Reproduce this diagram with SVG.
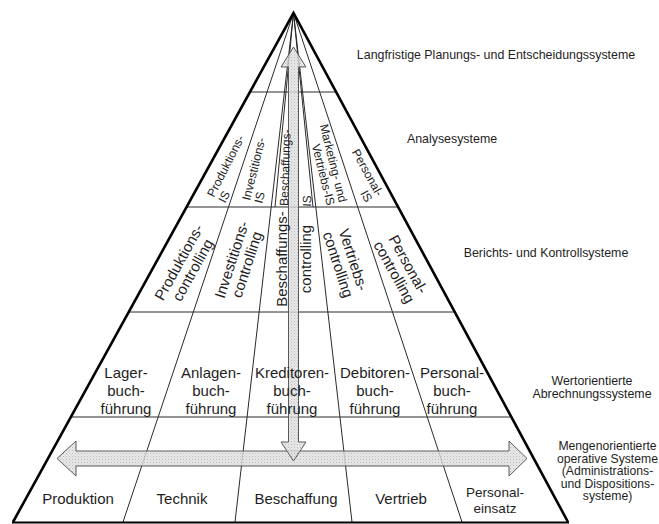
<svg xmlns="http://www.w3.org/2000/svg" width="659" height="524" viewBox="0 0 659 524">
<defs>
<style>
.t{font-family:"Liberation Sans",Arial,Helvetica,sans-serif;fill:#1e1e1e}
.s12{font-size:12px}
.s15{font-size:15px}
.r{font-size:12.4px}
.m{text-anchor:middle}
.e{text-anchor:end}
.thin{stroke:#2a2a2a;stroke-width:1;fill:none}
.frame{stroke:#000;stroke-width:2.6;fill:none;stroke-linejoin:miter}
.arrow{fill:url(#dots);fill-opacity:0.82;stroke:#5a5a5a;stroke-width:1}
</style>
<pattern id="dots" width="3" height="3" patternUnits="userSpaceOnUse">
<rect width="3" height="3" fill="#e4e4e4"/>
<rect x="0" y="0" width="1" height="1" fill="#aaaaaa"/>
<rect x="1.5" y="1.5" width="1" height="1" fill="#bdbdbd"/>
</pattern>
</defs>
<rect width="659" height="524" fill="#ffffff"/>

<g id="connectors">
<g id="layer-lines" class="thin">
<line x1="250" y1="92" x2="336.1" y2="92"/>
<line x1="186.6" y1="207" x2="398.1" y2="207"/>
<line x1="128.7" y1="312" x2="454.8" y2="312"/>
<line x1="70.9" y1="417" x2="511.4" y2="417"/>
</g>
<g id="dividers" class="thin">
<line x1="293.5" y1="13" x2="123" y2="522"/>
<line x1="293.5" y1="13" x2="235" y2="522"/>
<line x1="293.5" y1="13" x2="352" y2="522"/>
<line x1="293.5" y1="13" x2="462" y2="522"/>
<line x1="293.5" y1="13" x2="275" y2="207"/>
<line x1="293.5" y1="13" x2="313" y2="207"/>
</g>
<g id="pyramid-outline">
<path class="frame" d="M13,522 L293.5,13 L568,522"/>
<line x1="12" y1="522.5" x2="569" y2="522.5" stroke="#000" stroke-width="2"/>
</g>
<path id="arrow-horizontal" class="arrow" d="M57,458.5 L76,441 L76,451 L509,451 L509,441 L527,458.5 L509,476 L509,466 L76,466 L76,476 Z"/>
<path id="arrow-vertical" class="arrow" d="M293.5,47 L306,67 L298.5,67 L298.5,442 L306,442 L293.5,461 L281,442 L288.5,442 L288.5,67 L281,67 Z"/>
</g>

<g id="analysis-layer">
<g id="produktions-is"><text class="t s12" transform="translate(214,198) rotate(-63)"><tspan x="0" y="0">Produktions-</tspan><tspan x="0" y="12.5">IS</tspan></text></g>
<g id="investitions-is"><text class="t s12" transform="translate(250,201) rotate(-76)"><tspan x="0" y="0">Investitions-</tspan><tspan x="0" y="12.5">IS</tspan></text></g>
<g id="beschaffungs-is"><text class="t s12" transform="translate(288,206) rotate(-88)"><tspan x="0" y="0">Beschaffungs-</tspan><tspan x="0" y="23">IS</tspan></text></g>
<g id="marketing-vertriebs-is"><text class="t s12 e" transform="translate(339,203) rotate(76)"><tspan x="0" y="0">Marketing- und</tspan><tspan x="0" y="12.5">Vertriebs-IS</tspan></text></g>
<g id="personal-is"><text class="t s12 e" transform="translate(376.5,197) rotate(61)"><tspan x="0" y="0">Personal-</tspan><tspan x="0" y="12.5">IS</tspan></text></g>
</g>

<g id="reporting-layer">
<g id="produktionscontrolling"><text class="t s15 m" transform="translate(185.5,266) rotate(-61)"><tspan x="0" y="-2.5">Produktions-</tspan><tspan x="0" y="13.5">controlling</tspan></text></g>
<g id="investitionscontrolling"><text class="t s15 m" transform="translate(239,262) rotate(-72)"><tspan x="0" y="-2.5">Investitions-</tspan><tspan x="0" y="13.5">controlling</tspan></text></g>
<g id="beschaffungscontrolling"><text class="t s15 m" transform="translate(286.5,259) rotate(-90)"><tspan x="0" y="0">Beschaffungs-</tspan><tspan x="0" y="24.5">controlling</tspan></text></g>
<g id="vertriebscontrolling"><text class="t s15 m" transform="translate(346,262) rotate(72)"><tspan x="0" y="-2.5">Vertriebs-</tspan><tspan x="0" y="13.5">controlling</tspan></text></g>
<g id="personalcontrolling"><text class="t s15 m" transform="translate(401.5,268) rotate(61)"><tspan x="0" y="-2.5">Personal-</tspan><tspan x="0" y="13.5">controlling</tspan></text></g>
</g>

<g id="accounting-layer">
<g id="lagerbuchfuehrung"><text class="t s15 m"><tspan x="126" y="377.5">Lager-</tspan><tspan x="126" y="395.5">buch-</tspan><tspan x="126" y="413.5">führung</tspan></text></g>
<g id="anlagenbuchfuehrung"><text class="t s15 m"><tspan x="211" y="377.5">Anlagen-</tspan><tspan x="211" y="395.5">buch-</tspan><tspan x="211" y="413.5">führung</tspan></text></g>
<g id="kreditorenbuchfuehrung"><text class="t s15 m"><tspan x="292" y="377.5">Kreditoren-</tspan><tspan x="292" y="395.5">buch-</tspan><tspan x="292" y="413.5">führung</tspan></text></g>
<g id="debitorenbuchfuehrung"><text class="t s15 m"><tspan x="375" y="377.5">Debitoren-</tspan><tspan x="375" y="395.5">buch-</tspan><tspan x="375" y="413.5">führung</tspan></text></g>
<g id="personalbuchfuehrung"><text class="t s15 m"><tspan x="452" y="377.5">Personal-</tspan><tspan x="452" y="395.5">buch-</tspan><tspan x="452" y="413.5">führung</tspan></text></g>
</g>

<g id="operative-layer">
<g id="produktion"><text class="t s15 m" x="78" y="504">Produktion</text></g>
<g id="technik"><text class="t s15 m" x="182" y="504">Technik</text></g>
<g id="beschaffung"><text class="t s15 m" x="296" y="504">Beschaffung</text></g>
<g id="vertrieb"><text class="t s15 m" x="401" y="504">Vertrieb</text></g>
<g id="personaleinsatz"><text class="t m" style="font-size:13.5px"><tspan x="495" y="497">Personal-</tspan><tspan x="495" y="513">einsatz</tspan></text></g>
</g>

<g id="level-labels">
<g id="label-langfristig"><text class="t r m" x="496" y="59">Langfristige Planungs- und Entscheidungssysteme</text></g>
<g id="label-analyse"><text class="t r m" x="452" y="143">Analysesysteme</text></g>
<g id="label-berichts"><text class="t r m" x="546" y="257">Berichts- und Kontrollsysteme</text></g>
<g id="label-wert"><text class="t r m"><tspan x="592" y="385">Wertorientierte</tspan><tspan x="592" y="397.5">Abrechnungssysteme</tspan></text></g>
<g id="label-mengen"><text class="t m" style="font-size:12.2px"><tspan x="607.5" y="450">Mengenorientierte</tspan><tspan x="607.5" y="462.6">operative Systeme</tspan><tspan x="607.5" y="475.2">(Administrations-</tspan><tspan x="607.5" y="487.8">und Dispositions-</tspan><tspan x="607.5" y="500.4">systeme)</tspan></text></g>
</g>
</svg>
